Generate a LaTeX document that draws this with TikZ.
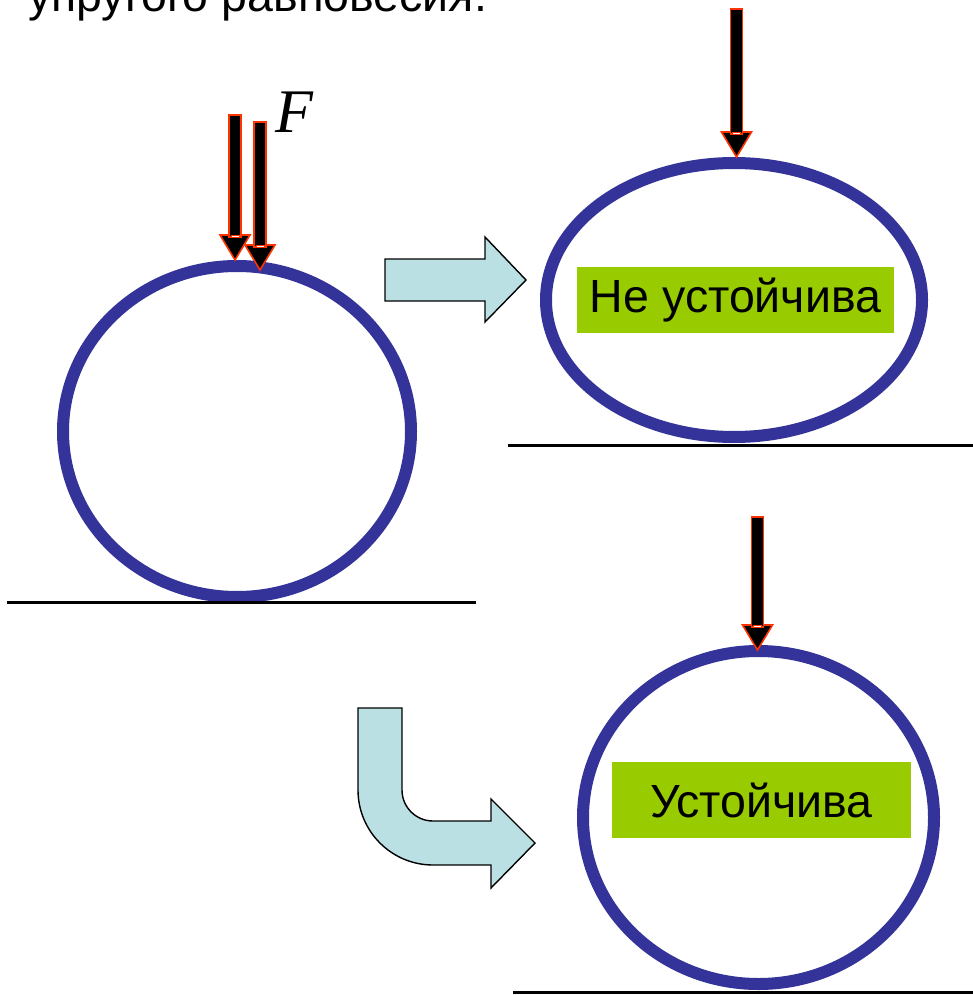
\documentclass[tikz,border=0pt]{standalone}
\usepackage{fontspec}
\setmainfont{Liberation Sans}
\newfontfamily\fsymfont{Liberation Serif}
\usetikzlibrary{shapes.geometric}
\definecolor{ringblue}{RGB}{51,51,153}
\definecolor{tagreen}{RGB}{153,204,0}
\definecolor{pushcyan}{RGB}{187,224,227}
\definecolor{forcered}{RGB}{255,51,0}

\begin{document}
\begin{tikzpicture}[x=1pt, y=-1pt,
    ring/.style={ellipse, draw=ringblue, line width=12pt, inner sep=0pt,
                 minimum width=#1},
    tag/.style={fill=tagreen, inner sep=0pt, minimum width=#1, minimum height=66pt,
                font=\fontsize{46.5}{55}\selectfont},
    ground/.style={line width=3pt},
    blockarrow/.style={fill=pushcyan, draw=black, line width=1.4pt, line join=miter},
    forcebody/.style={fill=black, draw=forcered, line width=1.6pt}
  ]
    \useasboundingbox (0,0) rectangle (973,995);

    \node[anchor=base west, inner sep=0pt, font=\fontsize{46.5}{55}\selectfont] (title) at (28,12) {упругого равновесия.};

    \node[ring=348pt, minimum height=331pt] (c1) at (237,431.5) {};
    \node[ring=376pt, minimum height=274pt] (c2) at (734,300) {};
    \node[ring=351pt, minimum height=333pt] (c3) at (758.5,817.5) {};

    \node[tag=317pt] (unstable) at (735.5,300) {Не устойчива};
    \node[tag=299pt, minimum height=76pt] (stable) at (761.5,800) {Устойчива};

    \draw[ground] (7,602) -- (476,602);
    \draw[ground] (508,445) -- (973,445);
    \draw[ground] (513,992) -- (973,992);

    \foreach \x/\top/\tip in {235/115/260, 260/122/270, 736.5/9/157, 757.5/517/650} {
      \draw[forcebody] (\x-15,\tip-25) -- (\x+15,\tip-25) -- (\x,\tip) -- cycle;
      \draw[forcebody] (\x-6,\top) rectangle (\x+6,\tip-23);
      \draw[fill=white, draw=forcered, line width=0.8pt] (\x-4,\tip-25) rectangle (\x+4,\tip-22.5);
    }

    \node[anchor=base west, inner sep=0pt, font=\fsymfont\itshape\fontsize{62}{70}\selectfont] (force) at (275,133) {F};

    \draw[blockarrow] (385,259) -- (485,259) -- (485,237) -- (526,280) -- (485,322) -- (485,301) -- (385,301) -- cycle;

    \draw[blockarrow] (358,708) -- (402,708) -- (402,790)
      arc[start angle=180, end angle=90, radius=31] -- (491,821) -- (491,799)
      -- (535,843) -- (491,888) -- (491,865) -- (433,865)
      arc[start angle=90, end angle=180, radius=75] -- cycle;
  \end{tikzpicture}
\end{document}
